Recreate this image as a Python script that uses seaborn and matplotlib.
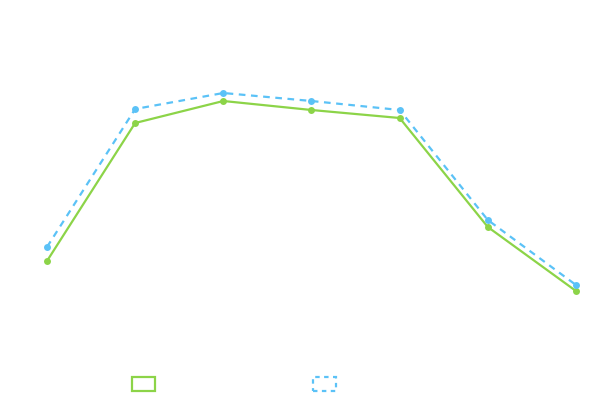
import matplotlib

matplotlib.use("Agg")
import matplotlib.pyplot as plt
import pandas as pd
import seaborn as sns
from matplotlib.patches import Patch

# data (no axis shown in the reference, values read on the pixel scale)
categories = [0, 1, 2, 3, 4, 5, 6]
series_a = [135, 273, 295, 286, 278, 169, 105]
series_b = [149, 287, 303, 295, 286, 176, 111]
labels = ["Series A", "Series B"]

GREEN = "#8CD448"
BLUE = "#5BC2F7"

df = pd.DataFrame(
    {
        "x": categories * 2,
        "value": series_a + series_b,
        "series": [labels[0]] * len(categories) + [labels[1]] * len(categories),
    }
)

sns.set_theme(style="white")
fig = plt.figure(figsize=(5.96, 3.96), dpi=100)
ax = fig.add_axes([0, 0, 1, 1])

sns.lineplot(
    data=df,
    x="x",
    y="value",
    hue="series",
    style="series",
    palette={labels[0]: GREEN, labels[1]: BLUE},
    dashes={labels[0]: "", labels[1]: (3, 2.5)},
    markers={labels[0]: "o", labels[1]: "o"},
    markersize=5,
    markeredgewidth=0,
    linewidth=1.6,
    legend=False,
    ax=ax,
)

ax.set_xlim(-0.533, 6.227)
ax.set_ylim(0, 396)
ax.axis("off")

handles = [
    Patch(facecolor="none", edgecolor=GREEN, linewidth=1.6, label=labels[0]),
    Patch(facecolor="none", edgecolor=BLUE, linewidth=1.6, linestyle=(0, (2, 2)), label=labels[1]),
]
leg = fig.legend(
    handles=handles,
    loc="center left",
    bbox_to_anchor=(132 / 596, 1 - 384.5 / 396),
    ncol=2,
    frameon=False,
    handlelength=1.66,
    handleheight=1.15,
    handletextpad=0.8,
    columnspacing=6.5,
    borderpad=0,
    borderaxespad=0,
    fontsize=10,
)
for t in leg.get_texts():
    t.set_color("white")

fig.savefig("out.png", dpi=100)
